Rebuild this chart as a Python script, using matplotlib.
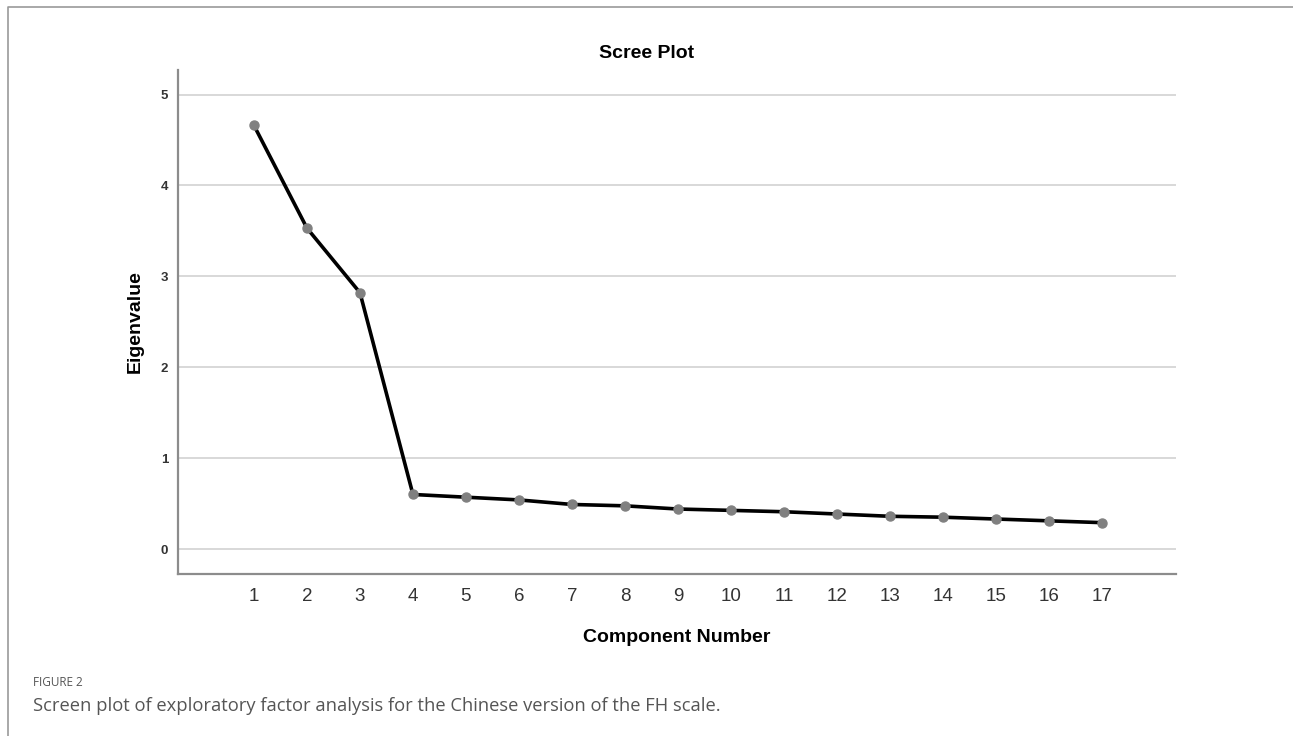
import matplotlib.pyplot as plt
from matplotlib.lines import Line2D

# eigenvalues for each extracted component
components = list(range(1, 18))
eigenvalues = [4.66, 3.53, 2.82, 0.60, 0.57, 0.54, 0.49, 0.475, 0.44,
               0.425, 0.41, 0.385, 0.36, 0.35, 0.33, 0.31, 0.29]
y_ticks = [0, 1, 2, 3, 4, 5]

plt.rcParams['font.family'] = ['Liberation Sans', 'DejaVu Sans']

fig = plt.figure(figsize=(12.93, 7.36), dpi=100)
ax = fig.add_axes([178 / 1293, 1 - 574 / 736, 998 / 1293, 504 / 736])

# grid lines first, then the scree line on top
for y in y_ticks:
    ax.axhline(y, color='#d6d6d6', linewidth=1.3, zorder=1)

ax.plot(components, eigenvalues, color='black', linewidth=2.6,
        marker='o', markersize=6.5, markerfacecolor='#808080',
        markeredgecolor='#808080', zorder=3)

ax.set_xlim(-0.434, 18.4)
ax.set_ylim(-0.275, 5.27)
ax.set_xticks(components)
ax.set_yticks(y_ticks)
ax.tick_params(axis='x', length=0, pad=10, labelsize=13.5, labelcolor='#333333')
ax.tick_params(axis='y', length=0, pad=7, labelsize=9.5, labelcolor='#333333')
for lbl in ax.get_yticklabels():
    lbl.set_fontweight('bold')

for side in ['top', 'right']:
    ax.spines[side].set_visible(False)
for side in ['left', 'bottom']:
    ax.spines[side].set_color('#8c8c8c')
    ax.spines[side].set_linewidth(1.6)

ax.set_xlabel('Component Number', fontsize=14, fontweight='bold', labelpad=17)
ax.set_ylabel('Eigenvalue', fontsize=14, fontweight='bold', labelpad=12)

fig.text(0.5, 1 - 53 / 736, 'Scree Plot', fontsize=14, fontweight='bold',
         ha='center', va='center')

# caption below the chart
fig.text(33 / 1293, 1 - 683 / 736, 'FIGURE 2', fontsize=8.5, color='#555555',
         family=['Open Sans', 'DejaVu Sans'], ha='left', va='center')
fig.text(33 / 1293, 1 - 706 / 736,
         'Screen plot of exploratory factor analysis for the Chinese version of the FH scale.',
         fontsize=13.2, color='#555555', family=['Open Sans', 'DejaVu Sans'],
         ha='left', va='center')

# frame line along the top and left edge
fig.add_artist(Line2D([8 / 1293, 8 / 1293, 1.0], [0.0, 1 - 7 / 736, 1 - 7 / 736],
                      transform=fig.transFigure, color='#9a9a9a', linewidth=1.2))

fig.savefig('out.png', dpi=100)
